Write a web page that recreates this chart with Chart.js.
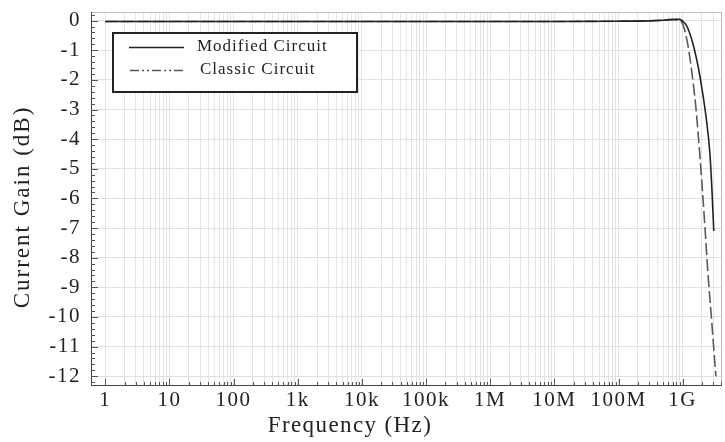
<!DOCTYPE html>
<html>
<head>
<meta charset="utf-8">
<script src="https://cdn.jsdelivr.net/npm/chart.js@4"></script>
<style>
  html, body { margin: 0; padding: 0; background: #fff; }
  #wrap { width: 725px; height: 442px; }
</style>
</head>
<body>
<div id="wrap"><canvas id="gainChart" width="725" height="442"></canvas></div>
<script>
'use strict';

// ── Data ──────────────────────────────────────────────────
const FREQ_MODIFIED = [1, 10, 100, 1e3, 1e4, 1e5, 1e6, 1e7, 1e8, 3e8, 5e8, 7e8, 9e8, 1e9, 1.17e9, 1.45e9, 1.74e9, 2.0e9, 2.33e9, 2.66e9, 2.9e9, 3.05e9];
const GAIN_MODIFIED = [-0.03, -0.03, -0.03, -0.03, -0.03, -0.03, -0.03, -0.03, -0.02, -0.01, 0.01, 0.04, 0.04, -0.02, -0.2, -0.8, -1.55, -2.3, -3.3, -4.5, -6.0, -7.1];

const FREQ_CLASSIC = [1, 10, 100, 1e3, 1e4, 1e5, 1e6, 1e7, 1e8, 3e8, 5e8, 7e8, 8.5e8, 1e9, 1.2e9, 1.38e9, 1.6e9, 1.86e9, 2.22e9, 2.47e9, 2.87e9, 3.2e9, 3.3e9];
const GAIN_CLASSIC = [-0.03, -0.03, -0.03, -0.03, -0.03, -0.03, -0.03, -0.03, -0.02, -0.01, 0.01, 0.03, 0.02, -0.12, -0.8, -1.7, -2.9, -4.6, -6.95, -8.5, -10.3, -11.65, -12.0];

const X_DECADES = [1, 10, 100, 1e3, 1e4, 1e5, 1e6, 1e7, 1e8, 1e9];
const X_LABELS = ['1', '10', '100', '1k', '10k', '100k', '1M', '10M', '100M', '1G'];
const Y_TICKS = [0, -1, -2, -3, -4, -5, -6, -7, -8, -9, -10, -11, -12];

const SERIES_NAMES = ['Modified Circuit', 'Classic Circuit'];
const X_TITLE = 'Frequency (Hz)';
const Y_TITLE = 'Current Gain (dB)';

const FONT = "'Liberation Serif', 'DejaVu Serif', serif";

// minor positions for the log axis (1..9 per decade)
const xMinor = [];
X_DECADES.forEach(d => { for (let k = 1; k <= 9; k++) if (d * k <= 4e9) xMinor.push(d * k); });

const toPoints = (xs, ys) => xs.map((x, i) => ({ x, y: ys[i] }));

// ── Plugins: white bg, frame, inward ticks, legend box, titles ──
const paperPlugin = {
    id: 'paper',
    beforeDraw(chart) {
        const c = chart.ctx;
        c.save();
        c.fillStyle = '#fff';
        c.fillRect(0, 0, chart.width, chart.height);
        c.restore();
        // wider tick labels, like the original
        c.letterSpacing = '1.5px';
    },
    beforeDatasetsDraw(chart) {
        chart.ctx.letterSpacing = '0px';
    },
    afterDraw(chart) {
        const c = chart.ctx;
        c.save();
        c.fillStyle = '#222';
        c.textAlign = 'center';
        c.textBaseline = 'middle';
        c.font = '23px ' + FONT;
        c.letterSpacing = '1.4px';
        c.fillText(X_TITLE, 350, 426);
        c.translate(23, 207);
        c.rotate(-Math.PI / 2);
        c.letterSpacing = '2px';
        c.fillText(Y_TITLE, 0, 0);
        c.restore();
    },
    afterDatasetsDraw(chart) {
        const c = chart.ctx;
        const a = chart.chartArea;
        const xs = chart.scales.x, ys = chart.scales.y;
        c.save();
        // frame
        c.strokeStyle = '#bdbdbd';
        c.lineWidth = 1;
        c.beginPath();
        c.moveTo(a.left, a.top + 0.5); c.lineTo(a.right, a.top + 0.5);
        c.moveTo(a.right - 0.5, a.top); c.lineTo(a.right - 0.5, a.bottom);
        c.stroke();
        c.strokeStyle = '#444';
        c.beginPath();
        c.moveTo(a.left + 0.5, a.top); c.lineTo(a.left + 0.5, a.bottom);
        c.moveTo(a.left, a.bottom - 0.5); c.lineTo(a.right, a.bottom - 0.5);
        c.stroke();

        // inward ticks
        c.strokeStyle = '#555';
        c.beginPath();
        xMinor.forEach(v => {
            const px = Math.round(xs.getPixelForValue(v)) + 0.5;
            const len = X_DECADES.includes(v) ? 7 : 4;
            c.moveTo(px, a.bottom); c.lineTo(px, a.bottom - len);
        });
        for (let i = 0; i <= 62; i++) {
            const v = 0.2 - i * 0.2;
            if (v < -12.3 || v > 0.3) continue;
            const py = Math.round(ys.getPixelForValue(v)) + 0.5;
            const major = Math.abs(v - Math.round(v)) < 1e-6;
            c.moveTo(a.left, py); c.lineTo(a.left + (major ? 7 : 4), py);
        }
        c.stroke();

        // legend box
        const bx = 113, by = 33, bw = 244, bh = 59;
        c.fillStyle = '#fff';
        c.fillRect(bx, by, bw, bh);
        c.strokeStyle = '#222';
        c.lineWidth = 2;
        c.strokeRect(bx, by, bw, bh);

        c.lineWidth = 1.6;
        c.strokeStyle = '#222';
        c.setLineDash([]);
        c.beginPath(); c.moveTo(129, 47.5); c.lineTo(184, 47.5); c.stroke();

        c.strokeStyle = '#555';
        c.setLineDash([9, 3, 2, 3, 2, 3]);
        c.beginPath(); c.moveTo(130, 70.5); c.lineTo(183, 70.5); c.stroke();
        c.setLineDash([]);

        c.fillStyle = '#222';
        c.font = '17px ' + FONT;
        c.letterSpacing = '1px';
        c.textBaseline = 'middle';
        c.fillText(SERIES_NAMES[0], 197, 47);
        c.fillText(SERIES_NAMES[1], 200, 70);
        c.restore();
    }
};

new Chart(document.getElementById('gainChart'), {
    type: 'line',
    data: {
        datasets: [{
            label: SERIES_NAMES[0],
            data: toPoints(FREQ_MODIFIED, GAIN_MODIFIED),
            borderColor: '#222',
            borderWidth: 1.6,
            pointRadius: 0,
            cubicInterpolationMode: 'monotone',
            fill: false
        }, {
            label: SERIES_NAMES[1],
            data: toPoints(FREQ_CLASSIC, GAIN_CLASSIC),
            borderColor: '#5a5a5a',
            borderWidth: 1.6,
            borderDash: [12, 4],
            pointRadius: 0,
            cubicInterpolationMode: 'monotone',
            fill: false
        }]
    },
    options: {
        responsive: false,
        animation: false,
        layout: { padding: { left: 0, top: 12, right: 3, bottom: 0 } },
        plugins: { legend: { display: false }, tooltip: { enabled: false } },
        scales: {
            x: {
                type: 'logarithmic',
                min: 0.63,
                max: 4.1e9,
                afterBuildTicks: s => { s.ticks = xMinor.map(v => ({ value: v })); },
                afterFit: s => { s.height = 56; s.paddingLeft = 0; s.paddingRight = 0; },
                ticks: {
                    autoSkip: false,
                    maxRotation: 0,
                    padding: 2,
                    color: '#222',
                    font: { family: FONT, size: 21 },
                    callback: v => {
                        const i = X_DECADES.indexOf(v);
                        return i >= 0 ? X_LABELS[i] : '';
                    }
                },
                grid: { color: '#e4e4e4', drawTicks: false, lineWidth: 1 },
                border: { display: false },
                title: { display: false }
            },
            y: {
                type: 'linear',
                min: -12.33,
                max: 0.29,
                afterBuildTicks: s => { s.ticks = Y_TICKS.map(v => ({ value: v })); },
                afterFit: s => { s.width = 91; s.paddingTop = 0; s.paddingBottom = 0; },
                ticks: {
                    padding: 10,
                    color: '#222',
                    font: { family: FONT, size: 21 },
                    callback: v => String(v)
                },
                grid: { color: '#e0e0e0', drawTicks: false, lineWidth: 1 },
                border: { display: false },
                title: { display: false }
            }
        }
    },
    plugins: [paperPlugin]
});
</script>
</body>
</html>
